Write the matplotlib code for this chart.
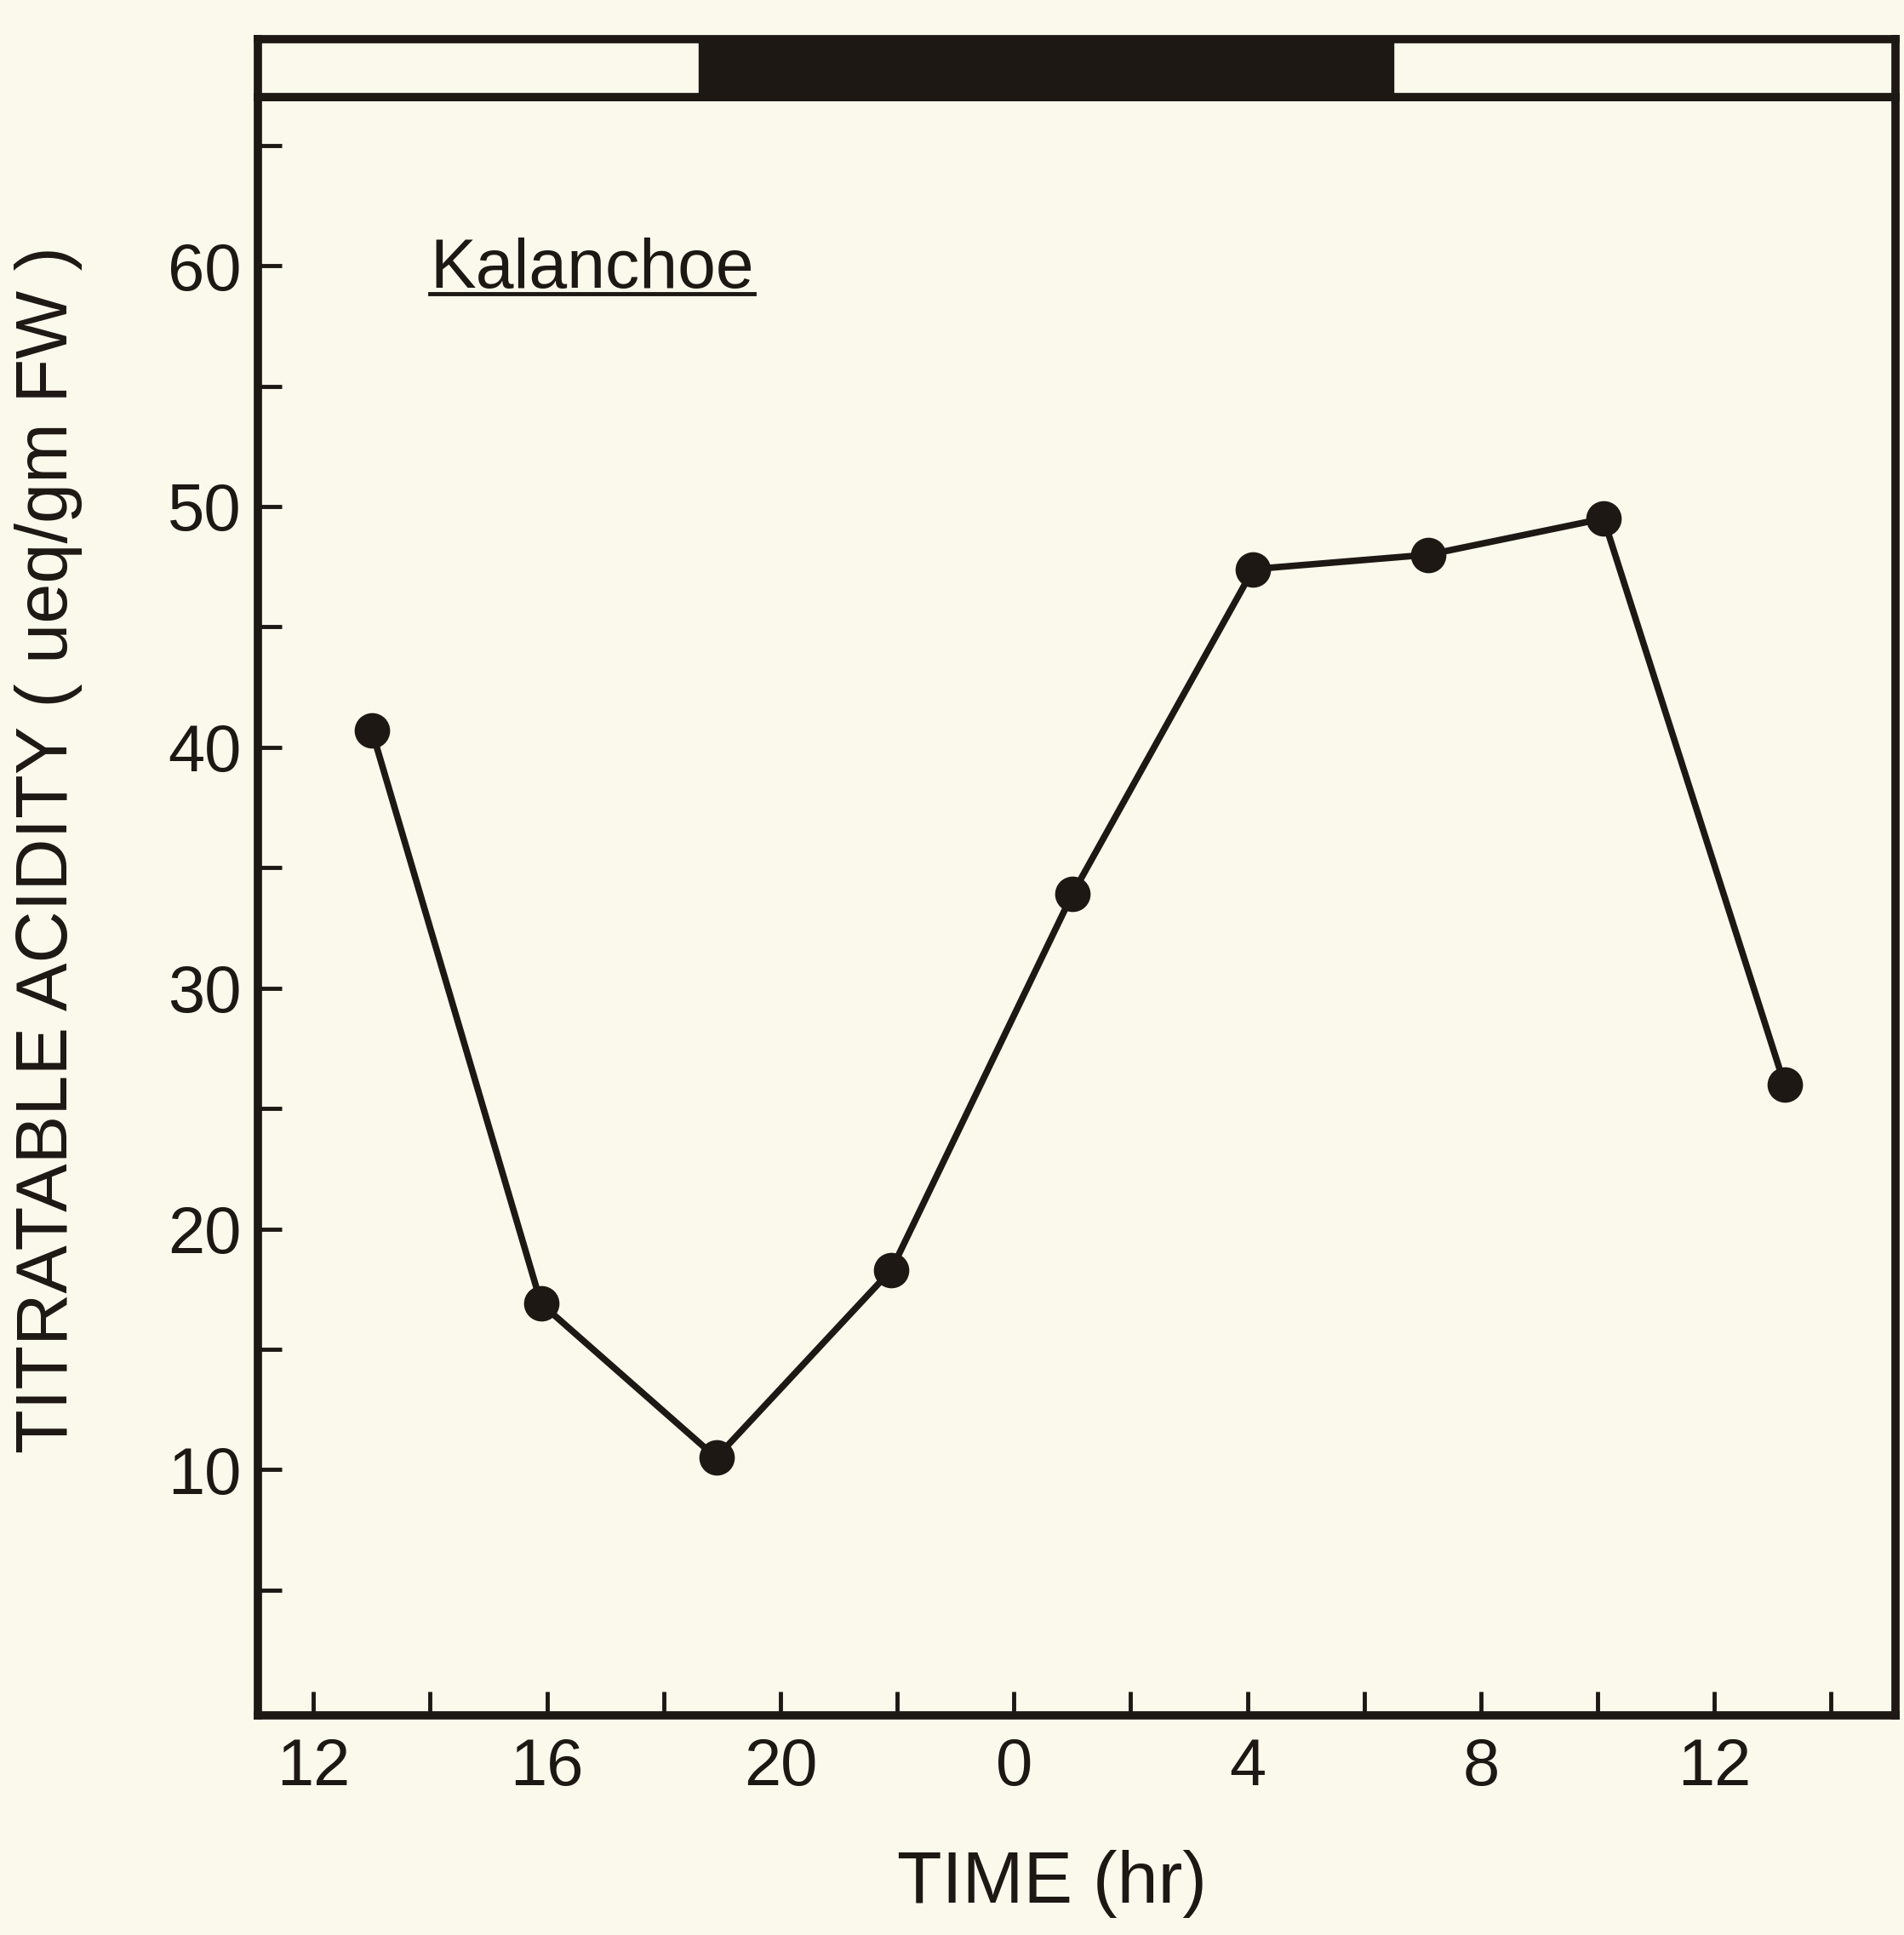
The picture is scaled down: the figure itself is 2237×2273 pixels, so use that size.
import matplotlib
matplotlib.use('Agg')
import matplotlib.pyplot as plt
from matplotlib.lines import Line2D

# sampling times (hours, continuous from noon of day 1) and acidity
times = [13.0, 15.9, 18.9, 21.9, 25.0, 28.1, 31.1, 34.1, 37.2]
acidity = [40.7, 16.9, 10.5, 18.3, 33.9, 47.4, 48.0, 49.5, 26.0]

# dark period shown as black bar above the plot
dark_start = 18.6
dark_end = 30.5

x_ticks = list(range(12, 39, 2))
x_labels = [str(t % 24) if t % 4 == 0 else '' for t in x_ticks]
y_ticks = list(range(5, 66, 5))
y_labels = [str(v) if v % 10 == 0 else '' for v in y_ticks]

BG = '#fbf8ec'
INK = '#1e1814'
plt.rcParams['font.family'] = ['Liberation Sans', 'DejaVu Sans']

fig = plt.figure(figsize=(22.37, 22.73), dpi=100, facecolor=BG)
ax = fig.add_axes([0.1355, 0.1135, 0.86, 0.8363], facecolor=BG)
bar = fig.add_axes([0.1355, 0.9498, 0.86, 0.030], facecolor=BG)

ax.plot(times, acidity, '-o', color=INK, lw=5.5, ms=29, mfc=INK, mec=INK)

ax.set_xlim(11.05, 39.1)
ax.set_ylim(-0.2, 67.0)
ax.set_xticks(x_ticks)
ax.set_xticklabels(x_labels)
ax.set_yticks(y_ticks)
ax.set_yticklabels(y_labels)
ax.tick_params(direction='in', length=20, width=3.5, colors=INK, labelsize=56)
ax.tick_params(axis='x', pad=18)
ax.tick_params(axis='y', pad=14)
for s in ax.spines.values():
    s.set_linewidth(7)
    s.set_color(INK)

ax.set_xlabel('TIME (hr)', fontsize=62, color=INK)
ax.xaxis.set_label_coords(0.485, -0.083)
ax.set_ylabel('TITRATABLE ACIDITY ( ueq/gm FW )', fontsize=61, color=INK)
ax.yaxis.set_label_coords(-0.107, 0.535)

title = ax.text(14.0, 59.1, 'Kalanchoe', fontsize=58, color=INK, va='baseline')

# light / dark bar
bar.set_xlim(ax.get_xlim())
bar.set_ylim(0, 1)
bar.axvspan(dark_start, dark_end, color=INK)
bar.set_xticks([])
bar.set_yticks([])
for s in bar.spines.values():
    s.set_linewidth(7)
    s.set_color(INK)

# underline the species name
fig.canvas.draw()
bb = title.get_window_extent().transformed(fig.transFigure.inverted())
uy = bb.y0 + 0.004
fig.add_artist(Line2D([bb.x0, bb.x1], [uy, uy], transform=fig.transFigure,
                      color=INK, lw=3.5))

fig.savefig('out.png', dpi=100, facecolor=BG)
